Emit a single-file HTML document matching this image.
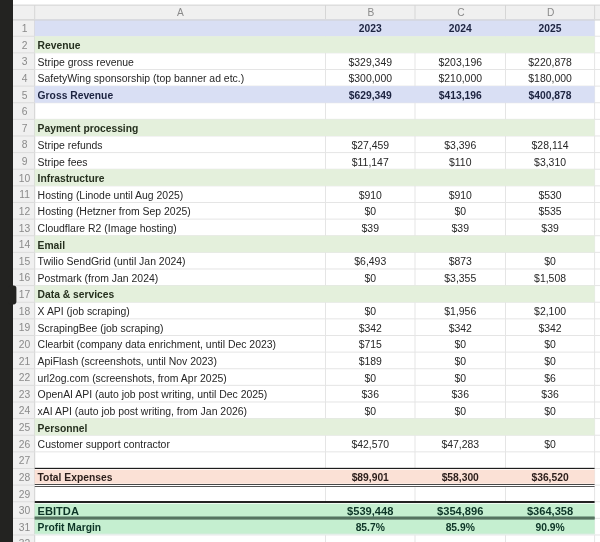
<!DOCTYPE html>
<html><head><meta charset="utf-8">
<style>
html,body{margin:0;padding:0;background:#fff;}
body{width:600px;height:542px;overflow:hidden;position:relative;font-family:"Liberation Sans",sans-serif;font-size:10.45px;color:#262626;}
svg.bg{position:absolute;left:0;top:0;}
.hdr{position:absolute;left:0.6px;top:5px;width:600px;height:14.6px;color:#8a8a8a;font-size:10.2px;}
.hdr div{position:absolute;top:0;height:14.6px;line-height:15.6px;text-align:center;}
.r{position:absolute;left:0;width:600px;height:17px;line-height:17px;white-space:nowrap;}
.r>div{position:absolute;top:0;height:17px;}
.n{position:absolute;left:13.4px;width:22.4px;height:17px;line-height:17px;color:#8a8a8a;text-align:center;font-size:10.3px;}
.r .a{left:37.6px;}
.r .v{text-align:center;}
.cb{left:325.5px;width:89.5px;}
.cc{left:415px;width:90.5px;}
.cd{left:505.5px;width:89.1px;}
.b{font-weight:bold;font-size:10.3px;}
.blue{color:#1c2340;}
.green{color:#26301f;}
.peach{color:#2a1d1a;}
.mint{color:#0d3527;}
.big{font-size:11.1px;}
</style></head><body>
<svg class="bg" width="600" height="542" viewBox="0 0 600 542">
<rect x="0" y="0" width="13.0" height="542" fill="#232321"/>
<rect x="13.0" y="5" width="587.0" height="14.60" fill="#f0f0f0"/>
<rect x="13.0" y="4.6" width="587.0" height="1" fill="#d2d2d2"/>
<rect x="13.0" y="19.6" width="21.700000000000003" height="522.4" fill="#f0f0f0"/>
<rect x="34.2" y="5" width="1" height="14.60" fill="#d6d6d6"/>
<rect x="325.0" y="5" width="1" height="14.60" fill="#d6d6d6"/>
<rect x="414.5" y="5" width="1" height="14.60" fill="#d6d6d6"/>
<rect x="505.0" y="5" width="1" height="14.60" fill="#d6d6d6"/>
<rect x="594.1" y="5" width="1" height="14.60" fill="#d6d6d6"/>
<rect x="325.0" y="19.6" width="1" height="522.4" fill="#e5e5e5"/>
<rect x="414.5" y="19.6" width="1" height="522.4" fill="#e5e5e5"/>
<rect x="505.0" y="19.6" width="1" height="522.4" fill="#e5e5e5"/>
<rect x="594.1" y="19.6" width="1" height="522.4" fill="#e5e5e5"/>
<rect x="34.2" y="19.6" width="1" height="522.4" fill="#d2d2d2"/>
<rect x="34.7" y="19.10" width="565.3" height="1" fill="#e5e5e5"/>
<rect x="13.0" y="19.10" width="21.700000000000003" height="1" fill="#dcdcdc"/>
<rect x="34.7" y="35.73" width="565.3" height="1" fill="#e5e5e5"/>
<rect x="13.0" y="35.73" width="21.700000000000003" height="1" fill="#dcdcdc"/>
<rect x="34.7" y="52.35" width="565.3" height="1" fill="#e5e5e5"/>
<rect x="13.0" y="52.35" width="21.700000000000003" height="1" fill="#dcdcdc"/>
<rect x="34.7" y="68.97" width="565.3" height="1" fill="#e5e5e5"/>
<rect x="13.0" y="68.97" width="21.700000000000003" height="1" fill="#dcdcdc"/>
<rect x="34.7" y="85.60" width="565.3" height="1" fill="#e5e5e5"/>
<rect x="13.0" y="85.60" width="21.700000000000003" height="1" fill="#dcdcdc"/>
<rect x="34.7" y="102.22" width="565.3" height="1" fill="#e5e5e5"/>
<rect x="13.0" y="102.22" width="21.700000000000003" height="1" fill="#dcdcdc"/>
<rect x="34.7" y="118.85" width="565.3" height="1" fill="#e5e5e5"/>
<rect x="13.0" y="118.85" width="21.700000000000003" height="1" fill="#dcdcdc"/>
<rect x="34.7" y="135.47" width="565.3" height="1" fill="#e5e5e5"/>
<rect x="13.0" y="135.47" width="21.700000000000003" height="1" fill="#dcdcdc"/>
<rect x="34.7" y="152.10" width="565.3" height="1" fill="#e5e5e5"/>
<rect x="13.0" y="152.10" width="21.700000000000003" height="1" fill="#dcdcdc"/>
<rect x="34.7" y="168.72" width="565.3" height="1" fill="#e5e5e5"/>
<rect x="13.0" y="168.72" width="21.700000000000003" height="1" fill="#dcdcdc"/>
<rect x="34.7" y="185.35" width="565.3" height="1" fill="#e5e5e5"/>
<rect x="13.0" y="185.35" width="21.700000000000003" height="1" fill="#dcdcdc"/>
<rect x="34.7" y="201.97" width="565.3" height="1" fill="#e5e5e5"/>
<rect x="13.0" y="201.97" width="21.700000000000003" height="1" fill="#dcdcdc"/>
<rect x="34.7" y="218.60" width="565.3" height="1" fill="#e5e5e5"/>
<rect x="13.0" y="218.60" width="21.700000000000003" height="1" fill="#dcdcdc"/>
<rect x="34.7" y="235.22" width="565.3" height="1" fill="#e5e5e5"/>
<rect x="13.0" y="235.22" width="21.700000000000003" height="1" fill="#dcdcdc"/>
<rect x="34.7" y="251.85" width="565.3" height="1" fill="#e5e5e5"/>
<rect x="13.0" y="251.85" width="21.700000000000003" height="1" fill="#dcdcdc"/>
<rect x="34.7" y="268.48" width="565.3" height="1" fill="#e5e5e5"/>
<rect x="13.0" y="268.48" width="21.700000000000003" height="1" fill="#dcdcdc"/>
<rect x="34.7" y="285.10" width="565.3" height="1" fill="#e5e5e5"/>
<rect x="13.0" y="285.10" width="21.700000000000003" height="1" fill="#dcdcdc"/>
<rect x="34.7" y="301.73" width="565.3" height="1" fill="#e5e5e5"/>
<rect x="13.0" y="301.73" width="21.700000000000003" height="1" fill="#dcdcdc"/>
<rect x="34.7" y="318.35" width="565.3" height="1" fill="#e5e5e5"/>
<rect x="13.0" y="318.35" width="21.700000000000003" height="1" fill="#dcdcdc"/>
<rect x="34.7" y="334.98" width="565.3" height="1" fill="#e5e5e5"/>
<rect x="13.0" y="334.98" width="21.700000000000003" height="1" fill="#dcdcdc"/>
<rect x="34.7" y="351.60" width="565.3" height="1" fill="#e5e5e5"/>
<rect x="13.0" y="351.60" width="21.700000000000003" height="1" fill="#dcdcdc"/>
<rect x="34.7" y="368.23" width="565.3" height="1" fill="#e5e5e5"/>
<rect x="13.0" y="368.23" width="21.700000000000003" height="1" fill="#dcdcdc"/>
<rect x="34.7" y="384.85" width="565.3" height="1" fill="#e5e5e5"/>
<rect x="13.0" y="384.85" width="21.700000000000003" height="1" fill="#dcdcdc"/>
<rect x="34.7" y="401.48" width="565.3" height="1" fill="#e5e5e5"/>
<rect x="13.0" y="401.48" width="21.700000000000003" height="1" fill="#dcdcdc"/>
<rect x="34.7" y="418.10" width="565.3" height="1" fill="#e5e5e5"/>
<rect x="13.0" y="418.10" width="21.700000000000003" height="1" fill="#dcdcdc"/>
<rect x="34.7" y="434.73" width="565.3" height="1" fill="#e5e5e5"/>
<rect x="13.0" y="434.73" width="21.700000000000003" height="1" fill="#dcdcdc"/>
<rect x="34.7" y="451.35" width="565.3" height="1" fill="#e5e5e5"/>
<rect x="13.0" y="451.35" width="21.700000000000003" height="1" fill="#dcdcdc"/>
<rect x="34.7" y="467.98" width="565.3" height="1" fill="#e5e5e5"/>
<rect x="13.0" y="467.98" width="21.700000000000003" height="1" fill="#dcdcdc"/>
<rect x="34.7" y="484.60" width="565.3" height="1" fill="#e5e5e5"/>
<rect x="13.0" y="484.60" width="21.700000000000003" height="1" fill="#dcdcdc"/>
<rect x="34.7" y="501.23" width="565.3" height="1" fill="#e5e5e5"/>
<rect x="13.0" y="501.23" width="21.700000000000003" height="1" fill="#dcdcdc"/>
<rect x="34.7" y="517.85" width="565.3" height="1" fill="#e5e5e5"/>
<rect x="13.0" y="517.85" width="21.700000000000003" height="1" fill="#dcdcdc"/>
<rect x="34.7" y="534.48" width="565.3" height="1" fill="#e5e5e5"/>
<rect x="13.0" y="534.48" width="21.700000000000003" height="1" fill="#dcdcdc"/>
<rect x="34.7" y="551.10" width="565.3" height="1" fill="#e5e5e5"/>
<rect x="13.0" y="551.10" width="21.700000000000003" height="1" fill="#dcdcdc"/>
<rect x="34.7" y="19.60" width="559.90" height="16.625" fill="#d9dff4"/>
<rect x="34.7" y="36.23" width="559.90" height="16.625" fill="#e4f0dc"/>
<rect x="34.7" y="86.10" width="559.90" height="16.625" fill="#d9dff4"/>
<rect x="34.7" y="119.35" width="559.90" height="16.625" fill="#e4f0dc"/>
<rect x="34.7" y="169.22" width="559.90" height="16.625" fill="#e4f0dc"/>
<rect x="34.7" y="235.72" width="559.90" height="16.625" fill="#e4f0dc"/>
<rect x="34.7" y="285.60" width="559.90" height="16.625" fill="#e4f0dc"/>
<rect x="34.7" y="418.60" width="559.90" height="16.625" fill="#e4f0dc"/>
<rect x="34.7" y="468.48" width="559.90" height="16.625" fill="#fbe1d6"/>
<rect x="34.7" y="501.73" width="559.90" height="16.625" fill="#c5efd0"/>
<rect x="34.7" y="518.35" width="559.90" height="16.625" fill="#c5efd0"/>
<rect x="13.0" y="19.5" width="587.0" height="1" fill="#d2d2d2"/>
<rect x="8" y="285.6" width="8.4" height="18.8" rx="2.8" fill="#232321"/>
<rect x="34.7" y="467.9" width="559.90" height="2.0" fill="#fff" fill-opacity="0.8"/>
<rect x="34.7" y="467.85" width="559.90" height="1.05" fill="#050505"/>
<rect x="34.7" y="483.7" width="559.90" height="3.6" fill="#fff"/>
<rect x="34.7" y="484.0" width="559.90" height="0.8" fill="#1a1a1a"/>
<rect x="34.7" y="486.15" width="559.90" height="0.8" fill="#2a2a2a"/>
<rect x="34.7" y="501.0" width="559.90" height="2.7" fill="#fff"/>
<rect x="34.7" y="501.1" width="559.90" height="1.8" fill="#0a0a0a"/>
<rect x="34.7" y="516.4" width="559.90" height="3.3" fill="#6f917c"/>
<rect x="34.7" y="516.9" width="559.90" height="2.3" fill="#557360"/>
<rect x="34.7" y="533.9" width="559.90" height="1.2" fill="#fff"/>
<rect x="34.7" y="533.7" width="559.90" height="1.0" fill="#dbe8e2"/>
</svg>
<div id="txt" style="position:absolute;left:0;top:0;width:600px;height:542px;will-change:transform">
<div class="hdr">
<div style="left:34.3px;width:291.2px">A</div>
<div style="left:325.5px;width:89.5px">B</div>
<div style="left:415px;width:90.5px">C</div>
<div style="left:505.5px;width:89.1px">D</div>
</div>
<div class="n" style="top:20px">1</div>
<div class="r blue b" style="top:20px"><div class="a"></div><div class="v cb">2023</div><div class="v cc">2024</div><div class="v cd">2025</div></div>
<div class="n" style="top:37px">2</div>
<div class="r green b" style="top:37px"><div class="a">Revenue</div><div class="v cb"></div><div class="v cc"></div><div class="v cd"></div></div>
<div class="n" style="top:53px">3</div>
<div class="r " style="top:54px"><div class="a">Stripe gross revenue</div><div class="v cb">$329,349</div><div class="v cc">$203,196</div><div class="v cd">$220,878</div></div>
<div class="n" style="top:70px">4</div>
<div class="r " style="top:70px"><div class="a">SafetyWing sponsorship (top banner ad etc.)</div><div class="v cb">$300,000</div><div class="v cc">$210,000</div><div class="v cd">$180,000</div></div>
<div class="n" style="top:87px">5</div>
<div class="r blue b" style="top:87px"><div class="a">Gross Revenue</div><div class="v cb">$629,349</div><div class="v cc">$413,196</div><div class="v cd">$400,878</div></div>
<div class="n" style="top:103px">6</div>
<div class="n" style="top:120px">7</div>
<div class="r green b" style="top:120px"><div class="a">Payment processing</div><div class="v cb"></div><div class="v cc"></div><div class="v cd"></div></div>
<div class="n" style="top:136px">8</div>
<div class="r " style="top:137px"><div class="a">Stripe refunds</div><div class="v cb">$27,459</div><div class="v cc">$3,396</div><div class="v cd">$28,114</div></div>
<div class="n" style="top:153px">9</div>
<div class="r " style="top:154px"><div class="a">Stripe fees</div><div class="v cb">$11,147</div><div class="v cc">$110</div><div class="v cd">$3,310</div></div>
<div class="n" style="top:170px">10</div>
<div class="r green b" style="top:170px"><div class="a">Infrastructure</div><div class="v cb"></div><div class="v cc"></div><div class="v cd"></div></div>
<div class="n" style="top:186px">11</div>
<div class="r " style="top:187px"><div class="a">Hosting (Linode until Aug 2025)</div><div class="v cb">$910</div><div class="v cc">$910</div><div class="v cd">$530</div></div>
<div class="n" style="top:203px">12</div>
<div class="r " style="top:203px"><div class="a">Hosting (Hetzner from Sep 2025)</div><div class="v cb">$0</div><div class="v cc">$0</div><div class="v cd">$535</div></div>
<div class="n" style="top:220px">13</div>
<div class="r " style="top:220px"><div class="a">Cloudflare R2 (Image hosting)</div><div class="v cb">$39</div><div class="v cc">$39</div><div class="v cd">$39</div></div>
<div class="n" style="top:236px">14</div>
<div class="r green b" style="top:237px"><div class="a">Email</div><div class="v cb"></div><div class="v cc"></div><div class="v cd"></div></div>
<div class="n" style="top:253px">15</div>
<div class="r " style="top:253px"><div class="a">Twilio SendGrid (until Jan 2024)</div><div class="v cb">$6,493</div><div class="v cc">$873</div><div class="v cd">$0</div></div>
<div class="n" style="top:269px">16</div>
<div class="r " style="top:270px"><div class="a">Postmark (from Jan 2024)</div><div class="v cb">$0</div><div class="v cc">$3,355</div><div class="v cd">$1,508</div></div>
<div class="n" style="top:286px">17</div>
<div class="r green b" style="top:286px"><div class="a">Data &amp; services</div><div class="v cb"></div><div class="v cc"></div><div class="v cd"></div></div>
<div class="n" style="top:303px">18</div>
<div class="r " style="top:303px"><div class="a">X API (job scraping)</div><div class="v cb">$0</div><div class="v cc">$1,956</div><div class="v cd">$2,100</div></div>
<div class="n" style="top:319px">19</div>
<div class="r " style="top:320px"><div class="a">ScrapingBee (job scraping)</div><div class="v cb">$342</div><div class="v cc">$342</div><div class="v cd">$342</div></div>
<div class="n" style="top:336px">20</div>
<div class="r " style="top:336px"><div class="a">Clearbit (company data enrichment, until Dec 2023)</div><div class="v cb">$715</div><div class="v cc">$0</div><div class="v cd">$0</div></div>
<div class="n" style="top:353px">21</div>
<div class="r " style="top:353px"><div class="a">ApiFlash (screenshots, until Nov 2023)</div><div class="v cb">$189</div><div class="v cc">$0</div><div class="v cd">$0</div></div>
<div class="n" style="top:369px">22</div>
<div class="r " style="top:370px"><div class="a">url2og.com (screenshots, from Apr 2025)</div><div class="v cb">$0</div><div class="v cc">$0</div><div class="v cd">$6</div></div>
<div class="n" style="top:386px">23</div>
<div class="r " style="top:386px"><div class="a">OpenAI API (auto job post writing, until Dec 2025)</div><div class="v cb">$36</div><div class="v cc">$36</div><div class="v cd">$36</div></div>
<div class="n" style="top:402px">24</div>
<div class="r " style="top:403px"><div class="a">xAI API (auto job post writing, from Jan 2026)</div><div class="v cb">$0</div><div class="v cc">$0</div><div class="v cd">$0</div></div>
<div class="n" style="top:419px">25</div>
<div class="r green b" style="top:420px"><div class="a">Personnel</div><div class="v cb"></div><div class="v cc"></div><div class="v cd"></div></div>
<div class="n" style="top:436px">26</div>
<div class="r " style="top:436px"><div class="a">Customer support contractor</div><div class="v cb">$42,570</div><div class="v cc">$47,283</div><div class="v cd">$0</div></div>
<div class="n" style="top:452px">27</div>
<div class="n" style="top:469px">28</div>
<div class="r peach b" style="top:469px"><div class="a">Total Expenses</div><div class="v cb">$89,901</div><div class="v cc">$58,300</div><div class="v cd">$36,520</div></div>
<div class="n" style="top:486px">29</div>
<div class="n" style="top:502px">30</div>
<div class="r mint b big" style="top:503px"><div class="a">EBITDA</div><div class="v cb">$539,448</div><div class="v cc">$354,896</div><div class="v cd">$364,358</div></div>
<div class="n" style="top:519px">31</div>
<div class="r mint b" style="top:519px"><div class="a">Profit Margin</div><div class="v cb">85.7%</div><div class="v cc">85.9%</div><div class="v cd">90.9%</div></div>
<div class="n" style="top:535px">32</div>
</div>
</body></html>
